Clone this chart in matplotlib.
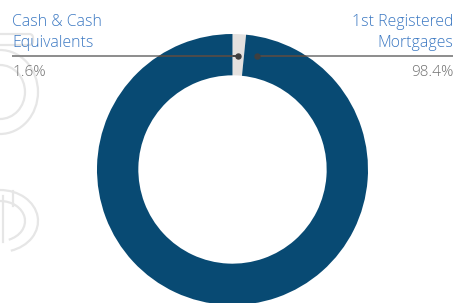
import numpy as np
import matplotlib
matplotlib.use("Agg")
import matplotlib.pyplot as plt
from matplotlib.patches import Arc, FancyBboxPatch

# ---- data ----
categories = ["Cash & Cash\nEquivalents", "1st Registered\nMortgages"]
values = [1.6, 98.4]
pct_labels = ["1.6%", "98.4%"]
colors = ["#e4e1df", "#084a73"]

W, H = 457, 303
fig = plt.figure(figsize=(W / 100, H / 100), dpi=100)
ax = fig.add_axes([0, 0, 1, 1])
ax.set_xlim(0, W)
ax.set_ylim(H, 0)
ax.axis("off")

# ---- faint background watermark outlines ----
wm = "#e6e6e6"
lw_wm = 1.6
ax.add_patch(FancyBboxPatch((-10, 34), 43, 11, boxstyle="round,pad=0,rounding_size=4",
                            fill=False, ec=wm, lw=lw_wm, zorder=0))
ax.add_patch(Arc((0, 92), 76, 84, theta1=-90, theta2=90, ec=wm, lw=lw_wm, zorder=0))
ax.add_patch(Arc((0, 92), 50, 54, theta1=-90, theta2=90, ec=wm, lw=lw_wm, zorder=0))
ax.add_patch(Arc((0, 221), 76, 62, theta1=-90, theta2=70, ec=wm, lw=lw_wm, zorder=0))
ax.add_patch(Arc((0, 221), 50, 40, theta1=-90, theta2=65, ec=wm, lw=lw_wm, zorder=0))
ax.plot([13, 13], [191, 206], color=wm, lw=lw_wm, zorder=0)
ax.plot([3, 3], [196, 242], color=wm, lw=lw_wm, zorder=0)
ax.add_patch(Arc((0, 318), 76, 90, theta1=0, theta2=180, ec=wm, lw=lw_wm, zorder=0))
ax.add_patch(Arc((0, 318), 50, 60, theta1=0, theta2=180, ec=wm, lw=lw_wm, zorder=0))

# ---- donut ----
cx, cy, R = 232.5, 169.5, 135.5
width = 0.305
# y axis is inverted: startangle -90 points up on screen, counterclock in
# data coordinates runs clockwise on screen
wedges, _ = ax.pie(values, colors=colors, startangle=-90, counterclock=True,
                   radius=R, center=(cx, cy),
                   wedgeprops=dict(width=R * width, linewidth=0))
ax.set_xlim(0, W)
ax.set_ylim(H, 0)
ax.set_aspect("auto")

# ---- leader lines ----
line_y = 55.5
mid = np.deg2rad(90 - values[0] / sum(values) * 360 / 2)
left_dot_x = cx + (cy - line_y) / np.tan(mid)
right_dot_x = left_dot_x + 19
segs = [[12, left_dot_x], [right_dot_x, 453]]
for xs in segs:
    ax.plot(xs, [line_y, line_y], color="#8c8c8c", lw=1.4, zorder=3,
            solid_capstyle="butt")
    for wdg in wedges:
        ln, = ax.plot(xs, [line_y, line_y], color="#4a4a4a", lw=1.4, zorder=4,
                      solid_capstyle="butt")
        ln.set_clip_path(wdg)
ax.plot([left_dot_x, right_dot_x], [line_y, line_y], "o", ms=3.6,
        color="#3f3f3f", zorder=5)

# ---- labels ----
fam = ["Open Sans", "DejaVu Sans"]
blue_txt = "#3b78c2"
gray_txt = "#707070"
fs_lab = 11.4
fs_pct = 11
for i, (cat, pct) in enumerate(zip(categories, pct_labels)):
    x = 12 if i == 0 else 453
    ha = "left" if i == 0 else "right"
    l1, l2 = cat.split("\n")
    ax.text(x, 26.5, l1, ha=ha, va="baseline", color=blue_txt, fontsize=fs_lab,
            family=fam, fontweight="light", zorder=6)
    ax.text(x, 46.8, l2, ha=ha, va="baseline", color=blue_txt, fontsize=fs_lab,
            family=fam, fontweight="light", zorder=6)
    ax.text(x, 75.5, pct, ha=ha, va="baseline", color=gray_txt, fontsize=fs_pct,
            family=fam, fontweight="light", zorder=6)

fig.savefig("out.png", dpi=100)
